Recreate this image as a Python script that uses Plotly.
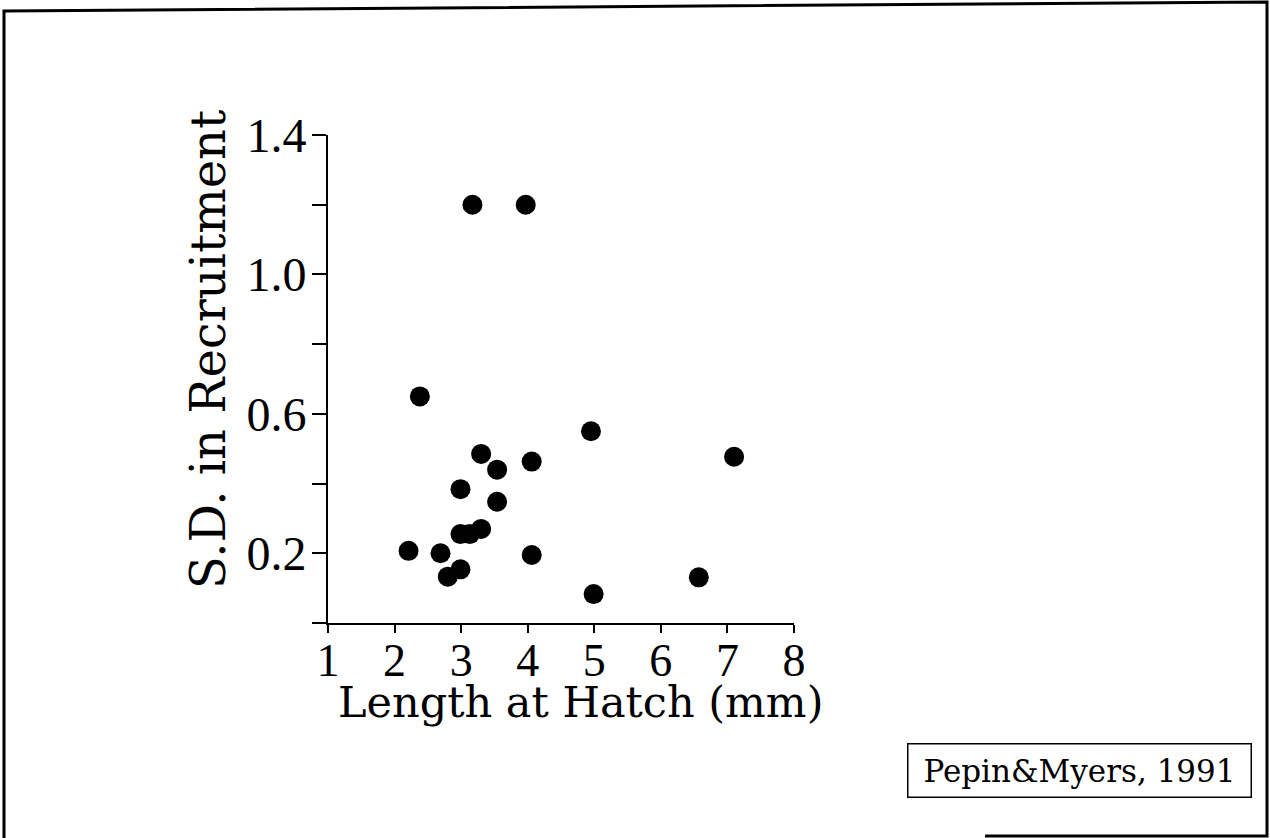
import plotly.graph_objects as go

length_at_hatch = [3.17, 3.97, 2.38, 4.95, 7.10, 3.30, 3.54, 4.06, 2.99, 3.54,
                   2.99, 3.13, 3.30, 2.21, 2.69, 4.06, 2.80, 2.99, 4.99, 6.57]
sd_recruitment = [1.20, 1.20, 0.65, 0.55, 0.477, 0.485, 0.44, 0.463, 0.384, 0.348,
                  0.255, 0.255, 0.27, 0.207, 0.20, 0.195, 0.133, 0.154, 0.083, 0.131]

x_tickvals = [1, 2, 3, 4, 5, 6, 7, 8]
x_ticktext = ["1", "2", "3", "4", "5", "6", "7", "8"]
y_tickvals = [0.0, 0.2, 0.4, 0.6, 0.8, 1.0, 1.2, 1.4]
y_ticktext = ["", "0.2", "", "0.6", "", "1.0", "", "1.4"]

TICKFONT = "Liberation Serif"
FONT = "DejaVu Serif"

W, H = 1270, 838
L, R, T, B = 328, 794, 135, 623  # plot area in pixels


def px(xpix):
    return (xpix - L) / (R - L)


def py(ypix):
    return (B - ypix) / (B - T)


fig = go.Figure()
fig.add_trace(go.Scatter(
    x=length_at_hatch, y=sd_recruitment, mode="markers",
    marker=dict(color="black", size=20, line=dict(width=0)),
    showlegend=False, cliponaxis=False,
))

border_path = "M {} {} L {} {} L {} {} L {} {} L {} {}".format(
    px(985), py(836), px(1267), py(836), px(1267), py(2), px(4), py(11), px(4), py(840))

fig.update_layout(
    width=W, height=H,
    margin=dict(l=L, r=W - R, t=T, b=H - B),
    paper_bgcolor="white", plot_bgcolor="white",
    font=dict(family=FONT, color="black"),
    xaxis=dict(
        range=[1, 8], tickvals=x_tickvals, ticktext=x_ticktext,
        showline=True, linecolor="black", linewidth=2,
        ticks="outside", ticklen=8, tickwidth=2, tickcolor="black",
        showgrid=False, zeroline=False,
        tickfont=dict(family=TICKFONT, size=46),
        ticklabelstandoff=-12,
    ),
    yaxis=dict(
        range=[0, 1.4], tickvals=y_tickvals, ticktext=y_ticktext,
        showline=True, linecolor="black", linewidth=2,
        ticks="outside", ticklen=14, tickwidth=2, tickcolor="black",
        showgrid=False, zeroline=False,
        tickfont=dict(family=TICKFONT, size=48),
        ticklabelstandoff=-4,
    ),
    shapes=[
        dict(type="path", xref="paper", yref="paper", path=border_path,
             line=dict(color="black", width=3)),
    ],
    annotations=[
        dict(text="Length at Hatch (mm)", xref="paper", yref="paper",
             x=px(580), y=py(702), xanchor="center", yanchor="middle",
             showarrow=False, font=dict(family=FONT, size=43, color="black")),
        dict(text="S.D. in Recruitment", xref="paper", yref="paper",
             x=px(208), y=py(350), xanchor="center", yanchor="middle", textangle=-90,
             showarrow=False, font=dict(family=FONT, size=48, color="black")),
        dict(text="Pepin&Myers, 1991", xref="paper", yref="paper",
             x=px(1079.5), y=py(770.5), xanchor="center", yanchor="middle",
             showarrow=False, font=dict(family=FONT, size=31, color="black"),
             width=338, height=48, borderpad=2,
             bordercolor="black", borderwidth=1.5, bgcolor="white"),
    ],
)

fig.write_html("out.html", config={"displayModeBar": False},
               post_script="document.body.style.margin='0';")
